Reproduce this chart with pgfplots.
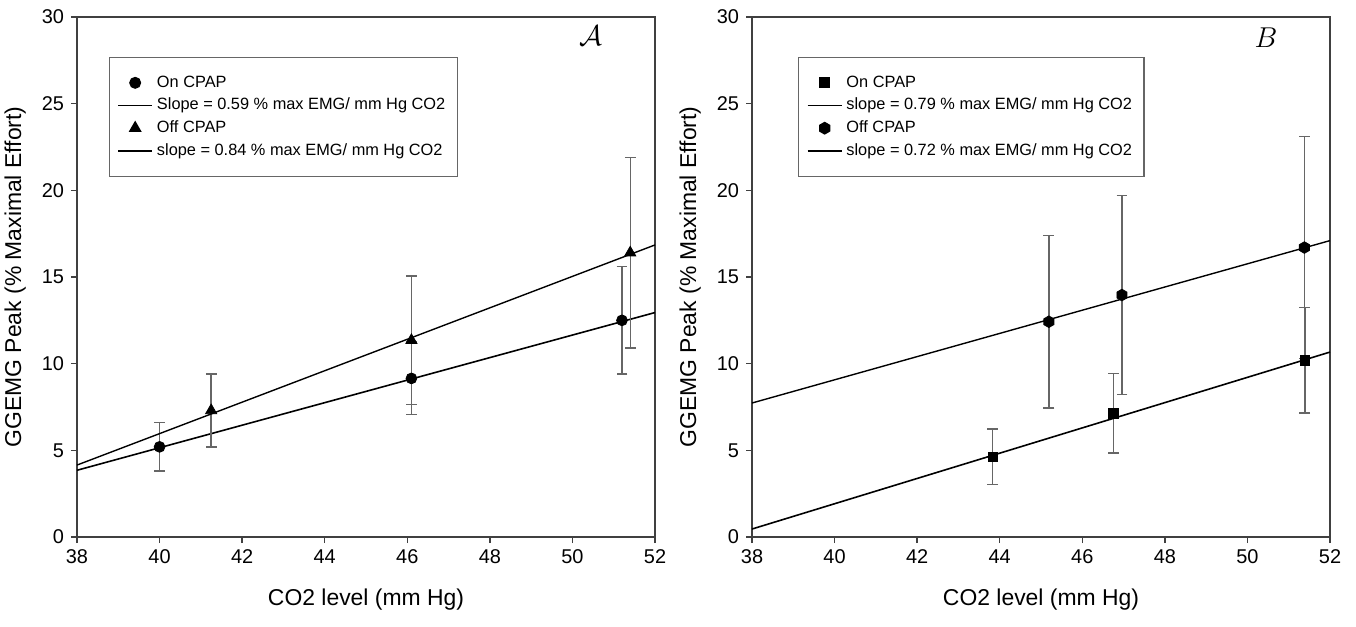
\documentclass[border=0pt]{standalone}
\usepackage{fontspec}
\setmainfont{Liberation Sans}
\usepackage{pgfplots}
\pgfplotsset{compat=1.18}

% filled hexagon marker for the Off CPAP series of panel B
\pgfdeclareplotmark{hexagon*}{%
  \pgfpathmoveto{\pgfqpointpolar{90}{\pgfplotmarksize}}%
  \pgfpathlineto{\pgfqpointpolar{150}{\pgfplotmarksize}}%
  \pgfpathlineto{\pgfqpointpolar{210}{\pgfplotmarksize}}%
  \pgfpathlineto{\pgfqpointpolar{270}{\pgfplotmarksize}}%
  \pgfpathlineto{\pgfqpointpolar{330}{\pgfplotmarksize}}%
  \pgfpathlineto{\pgfqpointpolar{30}{\pgfplotmarksize}}%
  \pgfpathclose
  \pgfusepathqfillstroke}

\pgfplotsset{
  panel/.style={
    scale only axis, width=289bp, height=260bp,
    xmin=38, xmax=52, ymin=0, ymax=30,
    xtick={38,40,...,52}, ytick={0,5,...,30},
    tick align=outside, tick pos=left,
    major tick length=3bp,
    axis line style={black!75, line width=0.7pt},
    every tick/.style={black!75, line width=0.7pt},
    tick label style={font=\fontsize{10}{12}\selectfont},
    label style={font=\fontsize{11.5}{13}\selectfont},
    /pgf/number format/assume math mode=true,
    xlabel={CO2 level (mm Hg)},
    ylabel={GGEMG Peak (\% Maximal Effort)},
    xlabel style={at={(axis description cs:0.5,-0.121)}, anchor=center},
    ylabel style={at={(axis description cs:-0.107,0.5)}, anchor=center},
    clip=false,
    legend style={anchor=north west, draw=black!60, line width=0.6pt,
      font=\fontsize{8.2}{10}\selectfont, cells={anchor=west},
      inner xsep=4bp, inner ysep=7bp, row sep=0bp},
  },
  ebar/.style={
    error bars/y dir=both, error bars/y explicit,
    error bars/error bar style={black!60, line width=0.7pt},
    error bars/error mark options={rotate=90, mark size=2.7bp, black!60, line width=0.7pt},
  },
}

\begin{document}
\begin{tikzpicture}
% ---------------- panel A ----------------
\begin{axis}[panel, legend style={at={(0.055,0.923)}}]
\addplot[only marks, mark=*, mark size=2.7bp, black, ebar]
  coordinates {(40,5.2) +- (0,1.4) (46.1,9.15) +- (0,2.1) (51.2,12.5) +- (0,3.1)};
\addlegendentry{On CPAP}
\addplot[black, line width=0.8pt] coordinates {(38,3.85) (52,12.95)};
\addlegendentry{Slope = 0.59 \% max EMG/ mm Hg CO2}
\addplot[only marks, mark=triangle*, mark size=3.2bp, black, ebar]
  coordinates {(41.25,7.3) +- (0,2.1) (46.1,11.35) +- (0,3.7) (51.4,16.4) +- (0,5.5)};
\addlegendentry{Off CPAP}
\addplot[black, line width=0.7pt] coordinates {(38,4.15) (52,16.85)};
\addlegendentry{slope = 0.84 \% max EMG/ mm Hg CO2}
\node at (axis cs:50.45,28.95) {\fontsize{15}{15}\selectfont$\mathcal{A}$};
\end{axis}
% ---------------- panel B ----------------
\begin{axis}[panel, xshift=337.5bp, legend style={at={(0.08,0.923)}}]
\addplot[only marks, mark=square*, mark size=2.4bp, black, ebar]
  coordinates {(43.83,4.63) +- (0,1.6) (46.76,7.14) +- (0,2.3) (51.39,10.2) +- (0,3.05)};
\addlegendentry{On CPAP}
\addplot[black, line width=0.8pt] coordinates {(38,0.46) (52,10.67)};
\addlegendentry{slope = 0.79 \% max EMG/ mm Hg CO2}
\addplot[only marks, mark=hexagon*, mark size=2.9bp, black, ebar]
  coordinates {(45.19,12.42) +- (0,4.97) (46.96,13.96) +- (0,5.73) (51.38,16.7) +- (0,6.4)};
\addlegendentry{Off CPAP}
\addplot[black, line width=0.7pt] coordinates {(38,7.73) (52,17.1)};
\addlegendentry{slope = 0.72 \% max EMG/ mm Hg CO2}
\node at (axis cs:50.45,28.8) {\fontsize{15}{15}\selectfont$B$};
\end{axis}
\pgfresetboundingbox
\path (-38.5bp,-45bp) rectangle (639.5bp,268.5bp);
\end{tikzpicture}
\end{document}
